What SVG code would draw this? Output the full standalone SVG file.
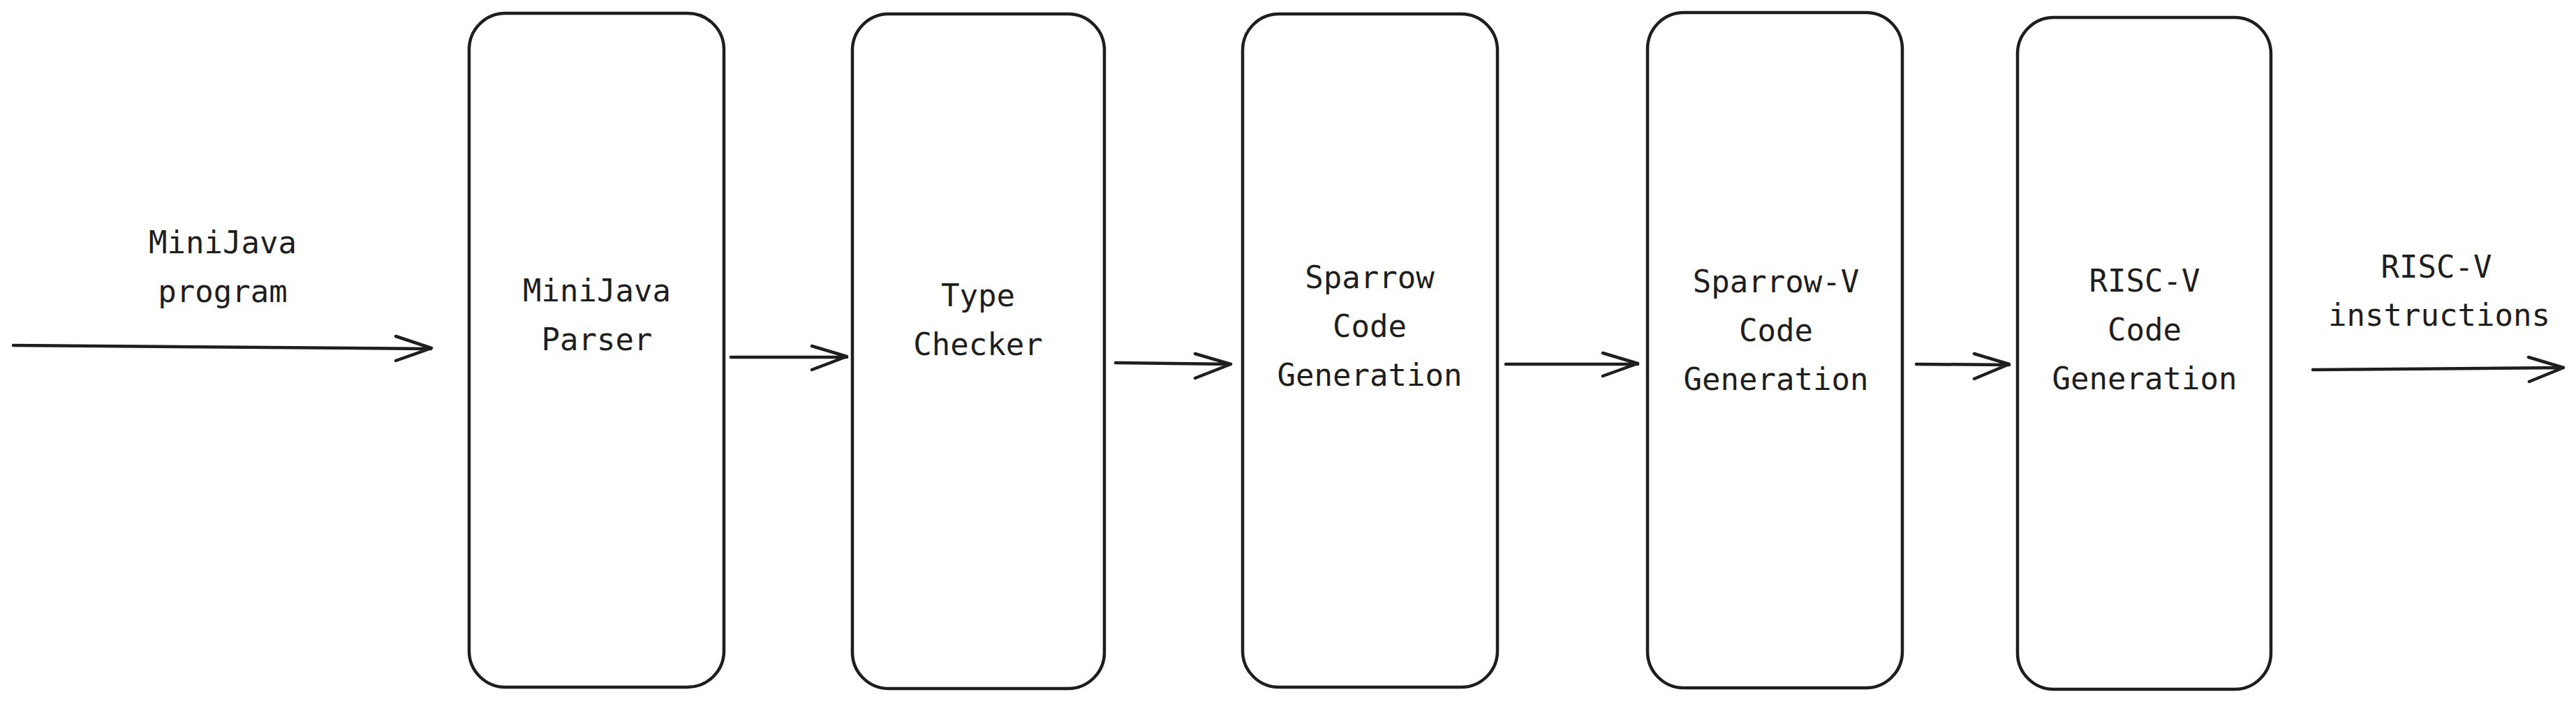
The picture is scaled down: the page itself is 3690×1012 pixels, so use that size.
<svg xmlns="http://www.w3.org/2000/svg" width="3690" height="1012" viewBox="0 0 3690 1012">
  <style>
    .box { fill: #ffffff; stroke: #1e1e1e; stroke-width: 4.5; }
    .lbl { font-family: "DejaVu Sans Mono", "Liberation Mono", monospace; font-size: 44px; fill: #1e1e1e; text-anchor: middle; }
    .conn { fill: none; stroke: #1e1e1e; stroke-width: 4.5; stroke-linecap: round; stroke-linejoin: round; }
  </style>
  <rect width="3690" height="1012" fill="#ffffff"/>

  <g id="node-parser">
    <rect class="box" x="672" y="19" width="365" height="966" rx="52" ry="52"/>
    <text class="lbl" x="855" y="432">MiniJava</text>
    <text class="lbl" x="855" y="502">Parser</text>
  </g>
  <g id="node-typechecker">
    <rect class="box" x="1221" y="20" width="361" height="967" rx="52" ry="52"/>
    <text class="lbl" x="1401" y="439">Type</text>
    <text class="lbl" x="1401" y="509">Checker</text>
  </g>
  <g id="node-sparrow">
    <rect class="box" x="1780" y="20" width="365" height="965" rx="52" ry="52"/>
    <text class="lbl" x="1962" y="413">Sparrow</text>
    <text class="lbl" x="1962" y="483">Code</text>
    <text class="lbl" x="1962" y="553">Generation</text>
  </g>
  <g id="node-sparrowv">
    <rect class="box" x="2360" y="18" width="365" height="968" rx="52" ry="52"/>
    <text class="lbl" x="2544" y="419">Sparrow-V</text>
    <text class="lbl" x="2544" y="489">Code</text>
    <text class="lbl" x="2544" y="559">Generation</text>
  </g>
  <g id="node-riscv">
    <rect class="box" x="2890" y="25" width="363" height="963" rx="52" ry="52"/>
    <text class="lbl" x="3072" y="418">RISC-V</text>
    <text class="lbl" x="3072" y="488">Code</text>
    <text class="lbl" x="3072" y="558">Generation</text>
  </g>

  <g id="label-input">
    <text class="lbl" x="319" y="363">MiniJava</text>
    <text class="lbl" x="319" y="433">program</text>
  </g>
  <g id="label-output">
    <text class="lbl" x="3490" y="398">RISC-V</text>
    <text class="lbl" x="3494" y="467">instructions</text>
  </g>

  <g id="connectors">
    <path class="conn" d="M19 495 L617 500 M567 482 L618 499 L567 517" stroke-width="5.5"/>
    <path class="conn" d="M1047 512 L1213 512 M1163 496 L1213 511 L1163 530" stroke-width="5"/>
    <path class="conn" d="M1598 520 L1762 522 M1712 507 L1763 522 L1712 542"/>
    <path class="conn" d="M2157 522 L2346 522 M2296 506 L2346 521 L2296 539" stroke-width="5"/>
    <path class="conn" d="M2745 522 L2878 523 M2828 507 L2878 522 L2828 543"/>
    <path class="conn" d="M3313 530 L3672 527 M3622 512 L3672 527 L3623 547" stroke-width="5.5"/>
  </g>
</svg>
